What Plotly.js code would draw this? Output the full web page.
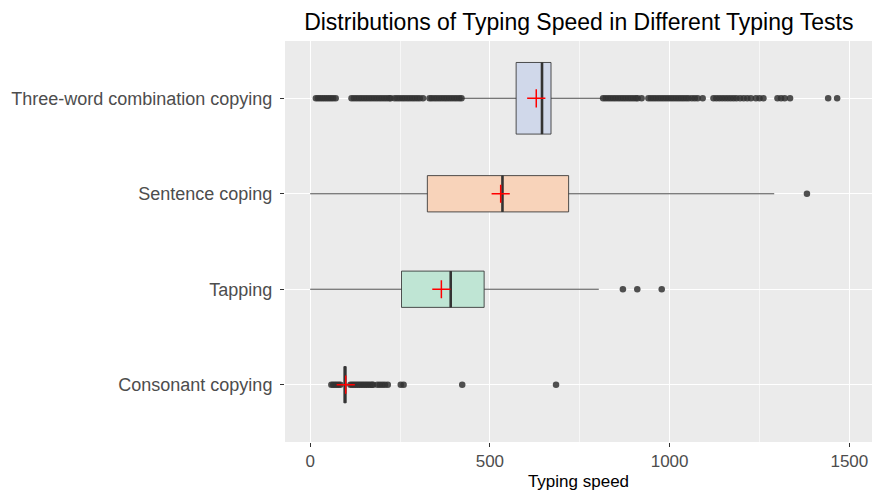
<!DOCTYPE html>
<html>
<head>
<meta charset="utf-8">
<script src="https://cdn.plot.ly/plotly-3.0.1.min.js"></script>
<style>html,body{margin:0;padding:0;background:#fff;}#chart{width:873px;height:496px;}</style>
</head>
<body>
<div id="chart"></div>
<script>
// Categories, bottom to top
var categories = ['Consonant copying', 'Tapping', 'Sentence coping', 'Three-word combination copying'];
var q1Vals = [94, 254, 326, 573];
var medianVals = [97, 391, 535, 645];
var q3Vals = [100, 484, 719, 670];
var lowerFenceVals = [88, 0, 0, 420];
var upperFenceVals = [109, 803, 1291, 812];
var meanVals = [99, 365, 530, 629];

var outliersConsonant = [59, 64, 69, 74, 79, 84, 112, 117, 122, 127, 132, 137, 142, 147, 152, 157, 162, 167, 172, 175,
  187, 194, 201, 208, 216, 252, 260, 423, 684];
var outliersTapping = [870, 910, 978];
var outliersSentence = [1382];
var outliersThreeWord = [16, 22, 28, 34, 40, 46, 52, 58, 64, 71,
  115, 122, 129, 136, 143, 150, 157, 164, 171, 178, 185, 192, 199, 206, 213, 220, 224,
  235, 242, 249, 256, 263, 270, 277, 284, 291, 298, 305, 314,
  332, 338, 345, 352, 359, 366, 373, 380, 387, 394, 401, 408, 415, 421,
  815, 822, 829, 836, 843, 850, 857, 864, 871, 878, 885, 892, 899, 906, 911, 922,
  941, 948, 955, 962, 969, 976, 983, 990, 997, 1004, 1011, 1018, 1025, 1032, 1039, 1046, 1053, 1062, 1070, 1078,
  1092, 1122, 1130, 1138, 1146, 1154, 1162, 1170, 1178, 1186, 1196, 1206, 1216, 1226, 1240, 1250, 1261,
  1300, 1310, 1320, 1335, 1441, 1466];
var outlierLists = [outliersConsonant, outliersTapping, outliersSentence, outliersThreeWord];

var xTickVals = [0, 500, 1000, 1500];
var xTickText = ['0', '500', '1000', '1500'];

var boxWidths = [0.38, 0.38, 0.38, 0.75];
var fillColors = ['rgb(245,208,231)', 'rgb(191,229,212)', 'rgb(248,211,186)', 'rgb(208,216,234)'];

var traces = [];
var positions = categories.map(function (c, i) { return i; });

categories.forEach(function (cat, i) {
  traces.push({
    type: 'box', orientation: 'h', name: cat,
    y: [i], q1: [q1Vals[i]], median: [medianVals[i]], q3: [q3Vals[i]],
    lowerfence: [lowerFenceVals[i]], upperfence: [upperFenceVals[i]],
    width: boxWidths[i], fillcolor: fillColors[i],
    line: { color: 'rgba(51,51,51,0.85)', width: 1 },
    whiskerwidth: 0, boxpoints: false, showlegend: false, hoverinfo: 'skip'
  });
});

categories.forEach(function (cat, i) {
  traces.push({
    type: 'scatter', mode: 'lines', showlegend: false, hoverinfo: 'skip',
    x: [medianVals[i], medianVals[i]], y: [i - boxWidths[i] / 2, i + boxWidths[i] / 2],
    line: { color: '#333333', width: 2.6 }
  });
});

categories.forEach(function (cat, i) {
  var pts = outlierLists[i];
  traces.push({
    type: 'scatter', mode: 'markers', showlegend: false, hoverinfo: 'skip',
    x: pts, y: pts.map(function () { return i; }),
    marker: { color: 'rgba(51,51,51,0.85)', size: 6.5, line: { width: 0 } }
  });
});

traces.push({
  type: 'scatter', mode: 'markers', showlegend: false, hoverinfo: 'skip',
  x: meanVals, y: positions,
  marker: { symbol: 'cross-thin', size: 13, color: 'red', line: { color: 'red', width: 1.5 } }
});

var layout = {
  width: 873, height: 496,
  margin: { l: 285, r: 1, t: 41, b: 54 },
  paper_bgcolor: '#ffffff', plot_bgcolor: '#ebebeb',
  font: { family: 'Liberation Sans, Arial, sans-serif' },
  title: {
    text: 'Distributions of Typing Speed in Different Typing Tests',
    font: { size: 23, color: '#000000' }, x: 0.663, xanchor: 'center', y: 0.955, yanchor: 'middle'
  },
  xaxis: {
    range: [-70, 1563], tickvals: xTickVals, ticktext: xTickText,
    showgrid: true, gridcolor: '#ffffff', gridwidth: 1.2, zeroline: false,
    ticks: 'outside', ticklen: 4, tickcolor: '#333333', tickwidth: 1,
    tickfont: { size: 17, color: '#4d4d4d' },
    minor: { tickvals: [250, 750, 1250], showgrid: true, gridcolor: '#ffffff', gridwidth: 0.6, ticks: '' },
    title: { text: 'Typing speed', font: { size: 17, color: '#000000' }, standoff: 4 },
    showline: false, fixedrange: true
  },
  yaxis: {
    range: [-0.6, 3.6], tickvals: positions, ticktext: categories,
    showgrid: true, gridcolor: '#ffffff', gridwidth: 1.2, zeroline: false,
    ticks: 'outside', ticklen: 4, tickcolor: '#333333', tickwidth: 1,
    ticklabelstandoff: 4,
    tickfont: { size: 18, color: '#4d4d4d' }, showline: false, fixedrange: true
  },
  showlegend: false
};

Plotly.newPlot('chart', traces, layout, { displayModeBar: false, staticPlot: true });
</script>
</body>
</html>
